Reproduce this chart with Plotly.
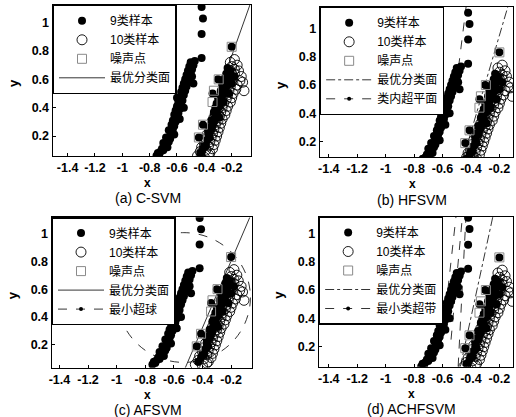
import plotly.graph_objects as go

# ---------------- data ----------------
# class 9 samples (filled dots): left band, top column, and those mixed into the right cluster
c9_x = [-0.75, -0.74, -0.73, -0.72, -0.71, -0.70, -0.69, -0.70, -0.68, -0.67, -0.66, -0.68, -0.65,
        -0.64, -0.66, -0.63, -0.62, -0.64, -0.61, -0.63, -0.60, -0.62, -0.59, -0.61, -0.58, -0.60,
        -0.57, -0.59, -0.58, -0.56, -0.57, -0.55, -0.57, -0.54, -0.56, -0.53, -0.55, -0.52, -0.54,
        -0.51, -0.53, -0.50, -0.52, -0.49, -0.51, -0.48, -0.50, -0.47, -0.49, -0.48, -0.67, -0.62,
        -0.58, -0.55, -0.60, -0.65,
        -0.42, -0.41, -0.42, -0.42,
        -0.43, -0.41, -0.40, -0.39, -0.38, -0.37, -0.36, -0.37, -0.35, -0.34, -0.35, -0.33, -0.32,
        -0.33, -0.31, -0.30, -0.31, -0.29, -0.28, -0.30, -0.27, -0.26, -0.28, -0.25, -0.27, -0.24,
        -0.26, -0.23, -0.25, -0.22, -0.24, -0.21, -0.23, -0.20, -0.29, -0.32, -0.36, -0.26,
        -0.20, -0.41, -0.44, -0.34, -0.30, -0.22, -0.18]
c9_y = [0.06, 0.08, 0.07, 0.09, 0.11, 0.10, 0.13, 0.15, 0.14, 0.17, 0.16, 0.19, 0.20,
        0.22, 0.24, 0.25, 0.27, 0.28, 0.30, 0.31, 0.33, 0.35, 0.36, 0.38, 0.39, 0.41,
        0.42, 0.44, 0.46, 0.45, 0.48, 0.49, 0.51, 0.52, 0.54, 0.55, 0.57, 0.58, 0.60,
        0.61, 0.63, 0.64, 0.66, 0.67, 0.69, 0.70, 0.72, 0.73, 0.62, 0.57, 0.12, 0.21,
        0.32, 0.40, 0.47, 0.18,
        1.11, 1.03, 0.92, 0.75,
        0.08, 0.11, 0.14, 0.13, 0.17, 0.20, 0.19, 0.23, 0.25, 0.28, 0.31, 0.30, 0.34,
        0.37, 0.36, 0.40, 0.43, 0.42, 0.45, 0.47, 0.48, 0.50, 0.52, 0.53, 0.56, 0.55,
        0.58, 0.59, 0.61, 0.62, 0.64, 0.66, 0.68, 0.57, 0.33, 0.40, 0.26, 0.44,
        0.83, 0.28, 0.19, 0.50, 0.60, 0.50, 0.62]

# class 10 samples (open circles)
c10_x = [-0.45, -0.40, -0.37, -0.43, -0.39, -0.36, -0.42, -0.37, -0.34, -0.40, -0.36, -0.33,
         -0.39, -0.35, -0.32, -0.38, -0.34, -0.31, -0.36, -0.33, -0.30, -0.35, -0.32, -0.29,
         -0.34, -0.30, -0.28, -0.33, -0.29, -0.27, -0.32, -0.28, -0.25, -0.30, -0.27, -0.24,
         -0.29, -0.26, -0.23, -0.28, -0.24, -0.21, -0.27, -0.23, -0.20, -0.26, -0.22, -0.19,
         -0.25, -0.21, -0.17, -0.23, -0.20, -0.16, -0.22, -0.19, -0.14, -0.22, -0.18, -0.13,
         -0.21, -0.18, -0.20, -0.16, -0.21, -0.18, -0.20, -0.12, -0.15, -0.11]
c10_y = [0.06, 0.05, 0.07, 0.09, 0.10, 0.08, 0.12, 0.13, 0.11, 0.15, 0.16, 0.14,
         0.18, 0.19, 0.17, 0.21, 0.22, 0.20, 0.24, 0.25, 0.23, 0.27, 0.28, 0.26,
         0.30, 0.31, 0.29, 0.33, 0.34, 0.32, 0.36, 0.37, 0.35, 0.39, 0.40, 0.38,
         0.42, 0.43, 0.41, 0.45, 0.46, 0.44, 0.48, 0.49, 0.47, 0.51, 0.52, 0.50,
         0.54, 0.55, 0.53, 0.57, 0.58, 0.56, 0.60, 0.61, 0.59, 0.63, 0.64, 0.62,
         0.66, 0.67, 0.69, 0.70, 0.72, 0.74, 0.64, 0.58, 0.66, 0.52]

# noise points (squares)
noise_x = [-0.20, -0.295, -0.33, -0.34, -0.41, -0.44]
noise_y = [0.83, 0.60, 0.52, 0.44, 0.28, 0.19]

# separating hyperplanes (最优分类面) per panel, endpoints
opt_a_x, opt_a_y = [-0.46, -0.065], [0.06, 1.13]
opt_b_x, opt_b_y = [-0.452, -0.138], [0.09, 1.16]
opt_c_x, opt_c_y = [-0.52, -0.069], [0.037, 1.115]
opt_d_x, opt_d_y = [-0.475, -0.246], [0.059, 1.117]

# (b) in-class hyperplane
hyp_b_x, hyp_b_y = [-0.503, -0.433], [0.60, 1.16]
# (c) minimal hypersphere
sphere_cx, sphere_cy, sphere_r = -0.53, 0.54, 0.465
# (d) minimal class hyper-band
band_d = [([-0.59, -0.505], [0.35, 1.12]),
          ([-0.54, -0.46], [0.25, 1.12]),
          ([-0.49, -0.435], [0.06, 1.12])]

x_ticks = [-1.4, -1.2, -1.0, -0.8, -0.6, -0.4, -0.2]
x_tick_text = ["-1.4", "-1.2", "-1", "-0.8", "-0.6", "-0.4", "-0.2"]
y_ticks = [0.2, 0.4, 0.6, 0.8, 1.0]
y_tick_text = ["0.2", "0.4", "0.6", "0.8", "1"]

captions = ["(a) C-SVM", "(b) HFSVM", "(c) AFSVM", "(d) ACHFSVM"]

# ---------------- layout geometry ----------------
W, H = 516, 417
panels = [
    dict(px=(50, 249), py=(5, 156), xr=[-1.509, -0.062], yr=[0.059, 1.125]),
    dict(px=(318.7, 513), py=(7, 157), xr=[-1.463, -0.104], yr=[0.092, 1.15]),
    dict(px=(49, 250), py=(217.3, 367.7), xr=[-1.454, -0.057], yr=[0.037, 1.115]),
    dict(px=(317.7, 513), py=(216.7, 366.7), xr=[-1.47, -0.104], yr=[0.059, 1.117]),
]

FONT = "Liberation Sans, Arial, Noto Sans CJK SC, sans-serif"
fig = go.Figure()
legend_names = ["legend", "legend2", "legend3", "legend4"]


def add_common(i):
    xa = "x" if i == 0 else f"x{i+1}"
    ya = "y" if i == 0 else f"y{i+1}"
    lg = legend_names[i]
    fig.add_trace(go.Scatter(x=c10_x, y=c10_y, mode="markers", name="10类样本", xaxis=xa, yaxis=ya,
                             legend=lg, legendrank=2,
                             marker=dict(symbol="circle-open", size=10, color="black", line=dict(width=0.9))))
    fig.add_trace(go.Scatter(x=c9_x, y=c9_y, mode="markers", name="9类样本", xaxis=xa, yaxis=ya,
                             legend=lg, legendrank=1,
                             marker=dict(symbol="circle", size=8, color="black")))
    fig.add_trace(go.Scatter(x=noise_x, y=noise_y, mode="markers", name="噪声点", xaxis=xa, yaxis=ya,
                             legend=lg, legendrank=3,
                             marker=dict(symbol="square-open", size=9, color="#8a8a8a", line=dict(width=1))))
    return xa, ya, lg


xa, ya, lg = add_common(0)
fig.add_trace(go.Scatter(x=opt_a_x, y=opt_a_y, mode="lines", name="最优分类面", xaxis=xa, yaxis=ya,
                         legend=lg, legendrank=4, line=dict(color="black", width=0.8)))
xa, ya, lg = add_common(1)
fig.add_trace(go.Scatter(x=opt_b_x, y=opt_b_y, mode="lines", name="最优分类面", xaxis=xa, yaxis=ya,
                         legend=lg, legendrank=4, line=dict(color="black", width=0.8, dash="dashdot")))
fig.add_trace(go.Scatter(x=hyp_b_x, y=hyp_b_y, mode="lines", name="类内超平面", xaxis=xa, yaxis=ya,
                         legend=lg, showlegend=False, line=dict(color="black", width=0.8, dash="dash")))
fig.add_trace(go.Scatter(x=[None], y=[None], mode="lines+markers", name="类内超平面", xaxis=xa, yaxis=ya,
                         legend=lg, legendrank=5, line=dict(color="black", width=0.8, dash="dash"),
                         marker=dict(size=4, color="black")))
xa, ya, lg = add_common(2)
fig.add_trace(go.Scatter(x=opt_c_x, y=opt_c_y, mode="lines", name="最优分类面", xaxis=xa, yaxis=ya,
                         legend=lg, legendrank=4, line=dict(color="black", width=0.8)))
fig.add_trace(go.Scatter(x=[None], y=[None], mode="lines+markers", name="最小超球", xaxis=xa, yaxis=ya,
                         legend=lg, legendrank=5, line=dict(color="black", width=0.8, dash="dash"),
                         marker=dict(size=4, color="black")))
fig.add_shape(type="circle", xref="x3", yref="y3",
              x0=sphere_cx - sphere_r, x1=sphere_cx + sphere_r,
              y0=sphere_cy - sphere_r, y1=sphere_cy + sphere_r,
              line=dict(color="black", width=0.8, dash="dash"), layer="below")
xa, ya, lg = add_common(3)
fig.add_trace(go.Scatter(x=opt_d_x, y=opt_d_y, mode="lines", name="最优分类面", xaxis=xa, yaxis=ya,
                         legend=lg, legendrank=4, line=dict(color="black", width=0.8, dash="dashdot")))
for bx, by in band_d:
    fig.add_trace(go.Scatter(x=bx, y=by, mode="lines", name="最小类超带", xaxis=xa, yaxis=ya,
                             legend=lg, showlegend=False, line=dict(color="black", width=0.8, dash="dash")))
fig.add_trace(go.Scatter(x=[None], y=[None], mode="lines+markers", name="最小类超带", xaxis=xa, yaxis=ya,
                         legend=lg, legendrank=5, line=dict(color="black", width=0.8, dash="dash"),
                         marker=dict(size=4, color="black")))

# draw lines underneath markers
fig.data = tuple([t for t in fig.data if t.mode == "lines"] + [t for t in fig.data if t.mode != "lines"])

layout = dict(width=W, height=H, margin=dict(l=0, r=0, t=0, b=0),
              paper_bgcolor="white", plot_bgcolor="white", showlegend=True,
              font=dict(family=FONT, color="black"))
annotations = []
for i, p in enumerate(panels):
    sfx = "" if i == 0 else str(i + 1)
    xd = [p["px"][0] / W, p["px"][1] / W]
    yd = [1 - p["py"][1] / H, 1 - p["py"][0] / H]
    axis_common = dict(showline=True, mirror=True, linecolor="black", linewidth=1.3,
                       ticks="inside", ticklen=3, tickcolor="black", showgrid=False, zeroline=False,
                       tickfont=dict(family=FONT, size=12.5, color="black", weight="bold"))
    layout["xaxis" + sfx] = dict(domain=xd, range=p["xr"], tickvals=x_ticks, ticktext=x_tick_text,
                                 anchor="y" + sfx, **axis_common)
    layout["yaxis" + sfx] = dict(domain=yd, range=p["yr"], tickvals=y_ticks, ticktext=y_tick_text,
                                 anchor="x" + sfx, **axis_common)
    layout[legend_names[i]] = dict(x=p["px"][0] / W, y=1 - p["py"][0] / H, xanchor="left", yanchor="top",
                                   bgcolor="white", bordercolor="black", borderwidth=1.3,
                                   font=dict(family=FONT, size=12, color="black"), itemwidth=46,
                                   traceorder="normal", tracegroupgap=0)
    cx = (p["px"][0] + p["px"][1]) / 2 / W - 0.008
    annotations.append(dict(text="x", xref="paper", yref="paper", x=cx, y=1 - (p["py"][1] + 27) / H,
                            showarrow=False, font=dict(size=12, family=FONT, weight="bold"),
                            xanchor="center", yanchor="middle"))
    annotations.append(dict(text=captions[i], xref="paper", yref="paper", x=cx,
                            y=1 - (p["py"][1] + 42.5) / H, showarrow=False,
                            font=dict(size=14, family=FONT), xanchor="center", yanchor="middle"))
    annotations.append(dict(text="y", xref="paper", yref="paper", x=(p["px"][0] - 40) / W,
                            y=1 - (p["py"][0] + 78) / H, showarrow=False, textangle=-90,
                            font=dict(size=13, family=FONT, weight="bold"),
                            xanchor="center", yanchor="middle"))
layout["annotations"] = annotations
fig.update_layout(**layout)

fig.write_html("out.html", config={"displayModeBar": False},
               post_script="document.body.style.margin='0';document.body.style.overflow='hidden';")
